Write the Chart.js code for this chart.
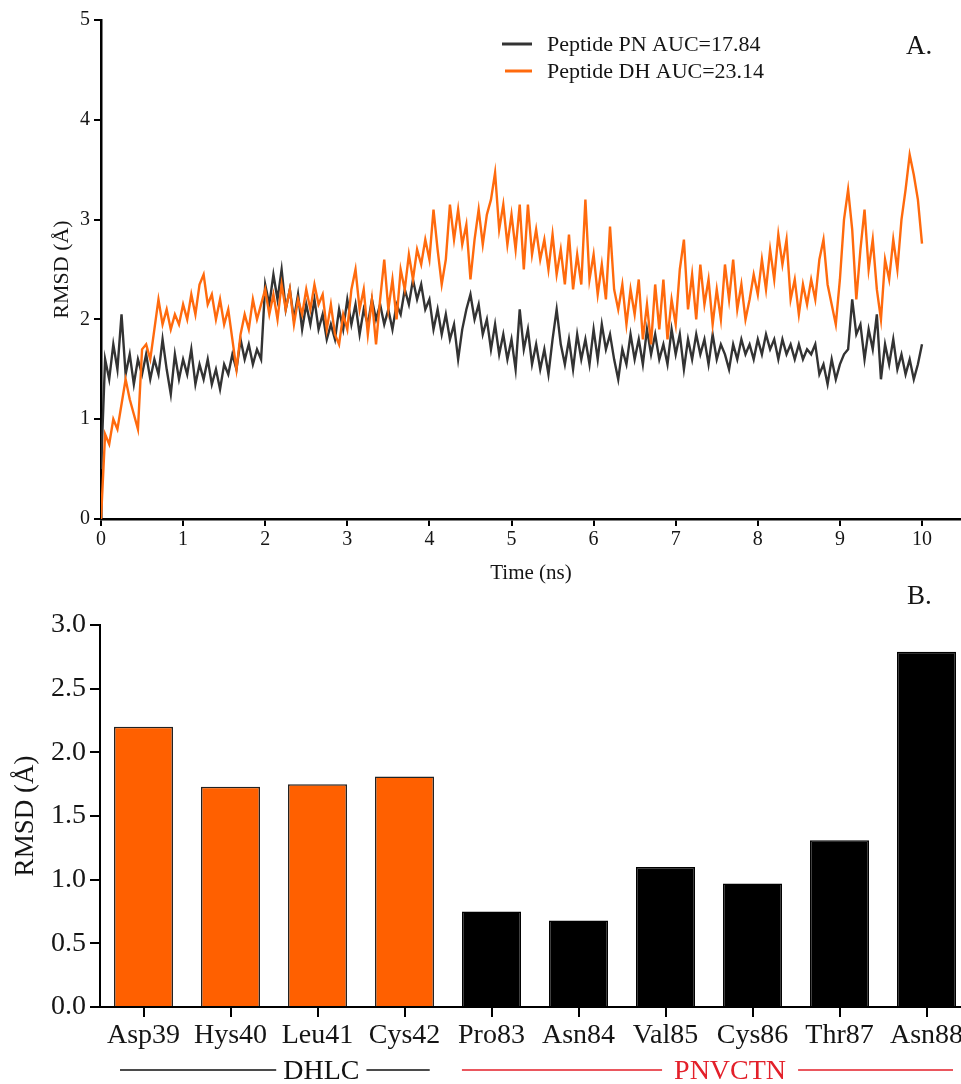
<!DOCTYPE html>
<html><head><meta charset="utf-8">
<script src="https://cdn.jsdelivr.net/npm/chart.js@4.4.1/dist/chart.umd.min.js"></script>
<style>
html,body{margin:0;padding:0;background:#fff;overflow:hidden;width:961px;height:1084px;}
#cA{position:absolute;left:0;top:0;}
#cB{position:absolute;left:0;top:580px;}
</style></head><body>
<canvas id="cA" width="961" height="600"></canvas>
<canvas id="cB" width="970" height="504"></canvas>
<script>
// ---------- Panel A data (RMSD vs time, sampled every 0.05 ns) ----------
const timeStepNs = 0.05;
const timeTicks = [0,1,2,3,4,5,6,7,8,9,10];
const rmsdTicksA = [0,1,2,3,4,5];
const seriesNames = ['Peptide PN AUC=17.84', 'Peptide DH AUC=23.14'];

const rmsdPN = [
  0.5,1.6,1.4,1.75,1.5,2.05,1.45,1.65,1.35,1.6,1.45,1.65,1.4,1.6,1.45,1.8,1.5,1.25,1.65,1.4,
  1.6,1.45,1.7,1.35,1.55,1.4,1.6,1.35,1.5,1.3,1.55,1.45,1.65,1.5,1.8,1.6,1.75,1.55,1.7,1.6,
  2.35,2.15,2.45,2.2,2.5,2.1,2.3,2.0,2.25,1.9,2.15,1.95,2.2,1.9,2.05,1.8,1.95,1.8,2.1,1.9,
  2.2,1.95,2.15,1.85,2.1,1.95,2.2,2.0,2.15,1.95,2.1,1.9,2.15,2.05,2.3,2.15,2.4,2.2,2.35,2.1,
  2.2,1.9,2.1,1.85,2.05,1.8,1.95,1.6,1.9,2.1,2.25,2.0,2.15,1.85,2.0,1.7,1.95,1.65,1.85,1.6,
  1.8,1.5,2.1,1.7,1.9,1.55,1.75,1.5,1.7,1.45,1.8,2.1,1.75,1.55,1.8,1.5,1.85,1.6,1.8,1.55,
  1.9,1.6,1.95,1.7,1.85,1.6,1.4,1.7,1.55,1.85,1.6,1.8,1.55,1.9,1.65,1.85,1.6,1.75,1.55,1.9,
  1.65,1.85,1.5,1.8,1.6,1.85,1.65,1.8,1.55,1.85,1.6,1.75,1.65,1.5,1.75,1.6,1.8,1.65,1.75,1.6,
  1.8,1.65,1.85,1.7,1.8,1.6,1.8,1.65,1.75,1.6,1.75,1.6,1.7,1.65,1.75,1.45,1.55,1.35,1.6,1.4,
  1.55,1.65,1.7,2.2,1.85,1.95,1.6,1.9,1.7,2.05,1.4,1.75,1.55,1.8,1.5,1.65,1.45,1.6,1.4,1.55,
  1.75
];
const rmsdDH = [
  0.0,0.85,0.75,1.0,0.9,1.15,1.4,1.2,1.05,0.9,1.7,1.75,1.6,1.9,2.2,1.95,2.1,1.9,2.05,1.95,
  2.15,2.0,2.25,2.05,2.35,2.45,2.15,2.25,2.0,2.2,1.95,2.1,1.8,1.5,1.85,2.05,1.9,2.2,2.0,2.15,
  2.3,2.05,2.25,2.0,2.35,2.1,2.3,1.95,2.2,2.05,2.3,2.1,2.35,2.15,2.25,1.9,2.15,1.85,1.75,2.05,
  1.9,2.3,2.5,2.1,2.3,1.85,2.2,1.75,2.2,2.6,2.1,2.4,2.0,2.5,2.3,2.65,2.4,2.7,2.55,2.8,
  2.6,3.1,2.7,2.35,2.6,3.15,2.8,3.1,2.75,2.95,2.4,2.8,3.1,2.75,3.05,3.2,3.47,2.9,3.15,2.75,
  3.05,2.7,3.15,2.5,3.15,2.65,2.9,2.6,2.8,2.5,2.85,2.45,2.7,2.35,2.85,2.3,2.65,2.35,3.2,2.4,
  2.65,2.25,2.55,2.2,2.93,2.3,2.1,2.35,1.95,2.3,2.05,2.4,1.8,2.15,1.75,2.35,1.9,2.4,1.8,2.2,
  1.95,2.5,2.8,2.1,2.45,2.0,2.55,2.15,2.4,1.95,2.3,2.0,2.55,2.2,2.6,2.1,2.35,2.0,2.2,2.45,
  2.25,2.6,2.3,2.7,2.4,2.85,2.55,2.8,2.2,2.4,2.05,2.35,2.15,2.4,2.2,2.6,2.8,2.35,2.15,1.95,
  2.4,3.0,3.3,2.9,2.2,2.7,3.1,2.5,2.8,2.3,2.0,2.6,2.4,2.8,2.5,3.0,3.3,3.65,3.45,3.2,
  2.76
];

// ---------- Panel B data (per-residue RMSD) ----------
const residues = ['Asp39','Hys40','Leu41','Cys42','Pro83','Asn84','Val85','Cys86','Thr87','Asn88'];
const residueRMSD = [2.2, 1.73, 1.75, 1.81, 0.75, 0.68, 1.1, 0.97, 1.31, 2.79];
const residueGroup = [0,0,0,0,1,1,1,1,1,1];
const groupNames = ['DHLC', 'PNVCTN'];
const rmsdTicksB = [0,0.5,1,1.5,2,2.5,3];

// ---------- styles ----------
const F = "'Liberation Serif','Times New Roman',serif";
const TXT = '#151515';
const lineColors = ['#333333', '#FF6A0D'];
const barFill = ['#FF6000', '#000000'];
const barEdge = ['#222222', '#000000'];
const groupStyle = [
  {color:'#111111', padL:0.27, padR:0.29, textFrac:0.65, gap:7},
  {color:'#E3202A', padL:0.34, padR:0.305, textFrac:0.546, gap:12}
];

function toPts(vals){ return vals.map((v,i)=>({x: +(i*timeStepNs).toFixed(2), y: v})); }

const panelLabel = (txt, x, y) => ({
  id: 'panel' + txt,
  afterDraw(chart){
    const c = chart.ctx; c.save();
    c.font = '27px ' + F; c.fillStyle = TXT; c.textAlign = 'left'; c.textBaseline = 'middle';
    c.fillText(txt, x, y); c.restore();
  }
});

const legendA = {
  id: 'legendA',
  afterDraw(chart){
    const c = chart.ctx; c.save();
    c.font = '22px ' + F; c.textBaseline = 'middle'; c.textAlign = 'left';
    const rows = [44, 71];
    seriesNames.forEach((name, i) => {
      c.strokeStyle = lineColors[i]; c.lineWidth = 3;
      c.beginPath(); c.moveTo(502 + i*3, rows[i]); c.lineTo(532, rows[i]); c.stroke();
      c.fillStyle = TXT; c.fillText(name, 547, rows[i] + 1);
    });
    c.restore();
  }
};

new Chart(document.getElementById('cA'), {
  type: 'line',
  data: {
    datasets: [
      {label: seriesNames[1], data: toPts(rmsdDH), borderColor: lineColors[1], borderWidth: 2.4, pointRadius: 0, tension: 0, order: 0},
      {label: seriesNames[0], data: toPts(rmsdPN), borderColor: lineColors[0], borderWidth: 2.4, pointRadius: 0, tension: 0, order: 1}
    ]
  },
  options: {
    responsive: false, animation: false,
    layout: {padding: {top: 20, left: 0, right: 0, bottom: 0}},
    plugins: {legend: {display: false}, tooltip: {enabled: false}},
    scales: {
      x: {
        type: 'linear', min: 0, max: 10.475,
        afterBuildTicks: s => { s.ticks = timeTicks.map(v => ({value: v})); },
        afterFit: s => { s.height = 81; s.paddingLeft = 0; s.paddingRight = 0; },
        border: {color: '#000', width: 2.5},
        grid: {drawOnChartArea: false, tickLength: 7, color: '#000', lineWidth: 2},
        ticks: {color: TXT, font: {family: F, size: 20}, padding: 2, maxRotation: 0, autoSkip: false},
        title: {display: true, text: 'Time (ns)', color: TXT, font: {family: F, size: 21}, padding: {top: 0, bottom: 14}}
      },
      y: {
        min: 0, max: 5,
        afterBuildTicks: s => { s.ticks = rmsdTicksA.map(v => ({value: v})); },
        afterFit: s => { s.width = 101; s.paddingTop = 0; s.paddingBottom = 0; },
        border: {color: '#000', width: 2.5},
        grid: {drawOnChartArea: false, tickLength: 7, color: '#000', lineWidth: 2},
        ticks: {color: TXT, font: {family: F, size: 20}, padding: 4},
        title: {display: true, text: 'RMSD (Å)', color: TXT, font: {family: F, size: 22}, padding: {top: 49, bottom: 0}}
      }
    }
  },
  plugins: [legendA, panelLabel('A.', 906, 47)]
});

const groupDeco = {
  id: 'groupDeco',
  afterDraw(chart){
    const c = chart.ctx, xs = chart.scales.x;
    const step = xs.getPixelForValue(1) - xs.getPixelForValue(0);
    c.save();
    c.font = '28px ' + F; c.textBaseline = 'middle'; c.textAlign = 'center';
    groupNames.forEach((name, g) => {
      const idx = residueGroup.map((gg, i) => gg === g ? i : -1).filter(i => i >= 0);
      const st = groupStyle[g];
      const x0 = xs.getPixelForValue(idx[0]) - st.padL * step;
      const x1 = xs.getPixelForValue(idx[idx.length - 1]) + st.padR * step;
      const cx = x0 + st.textFrac * (x1 - x0);
      const w = c.measureText(name).width;
      const ly = 490;
      c.strokeStyle = st.color; c.lineWidth = 1.6;
      c.beginPath(); c.moveTo(x0, ly); c.lineTo(cx - w/2 - st.gap, ly);
      c.moveTo(cx + w/2 + st.gap, ly); c.lineTo(x1, ly); c.stroke();
      c.fillStyle = st.color; c.fillText(name, cx, ly + 2);
    });
    c.restore();
  }
};

new Chart(document.getElementById('cB'), {
  type: 'bar',
  data: {
    labels: residues,
    datasets: [{
      data: residueRMSD,
      backgroundColor: residueGroup.map(g => barFill[g]),
      borderColor: residueGroup.map(g => barEdge[g]), borderWidth: 1.5,
      barPercentage: 0.678, categoryPercentage: 1
    }]
  },
  options: {
    responsive: false, animation: false,
    layout: {padding: {top: 45, left: 0, right: 0, bottom: 0}},
    plugins: {legend: {display: false}, tooltip: {enabled: false}},
    scales: {
      x: {
        afterFit: s => { s.height = 77; s.paddingLeft = 0; s.paddingRight = 0; },
        border: {color: '#000', width: 2},
        grid: {offset: false, drawOnChartArea: false, tickLength: 10, color: '#000', lineWidth: 2},
        ticks: {color: TXT, font: {family: F, size: 28}, padding: 2, maxRotation: 0, autoSkip: false}
      },
      y: {
        min: 0, max: 3,
        afterBuildTicks: s => { s.ticks = rmsdTicksB.map(v => ({value: v})); },
        afterFit: s => { s.width = 100; s.paddingTop = 0; s.paddingBottom = 0; },
        border: {color: '#000', width: 2},
        grid: {drawOnChartArea: false, tickLength: 10, color: '#000', lineWidth: 2},
        ticks: {color: TXT, font: {family: F, size: 28}, padding: 4, callback: v => Number(v).toFixed(1)},
        title: {display: true, text: 'RMSD (Å)', color: TXT, font: {family: F, size: 27}, padding: {top: 10, bottom: 0}}
      }
    }
  },
  plugins: [groupDeco, panelLabel('B.', 907, 17)]
});
</script>
</body></html>
